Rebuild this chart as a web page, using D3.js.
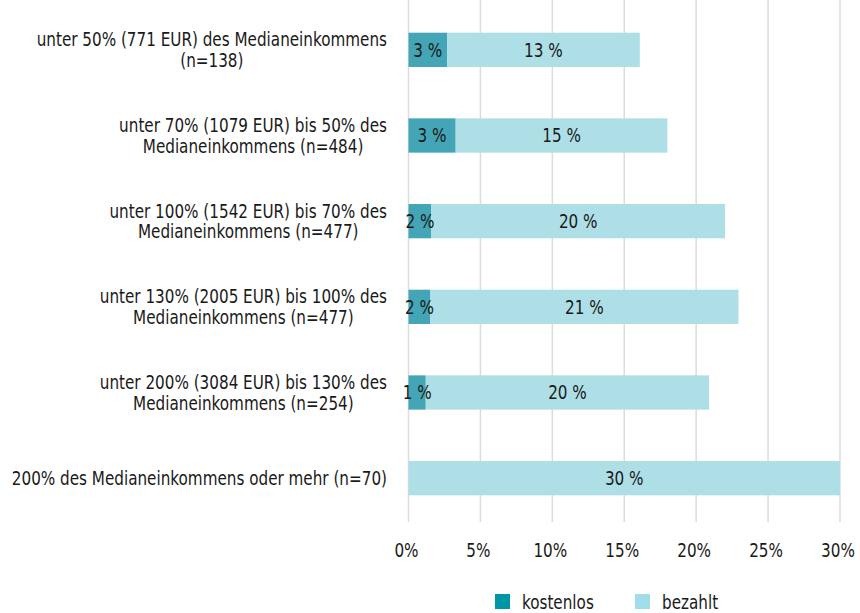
<!DOCTYPE html>
<html>
<head>
<meta charset="utf-8">
<script src="https://cdn.jsdelivr.net/npm/d3@7"></script>
<style>
  body { margin: 0; background: #fff; }
  svg text { font-family: "Liberation Sans Narrow", "DejaVu Sans Condensed", "Roboto", sans-serif; fill: #1a1a1a; }
</style>
</head>
<body>
<svg width="860" height="613"></svg>
<script>
// data
var categories = [
	["unter 50% (771 EUR) des Medianeinkommens", "(n=138)"],
	["unter 70% (1079 EUR) bis 50% des", "Medianeinkommens (n=484)"],
	["unter 100% (1542 EUR) bis 70% des", "Medianeinkommens (n=477)"],
	["unter 130% (2005 EUR) bis 100% des", "Medianeinkommens (n=477)"],
	["unter 200% (3084 EUR) bis 130% des", "Medianeinkommens (n=254)"],
	["200% des Medianeinkommens oder mehr (n=70)"]
];
var kostenlos = [2.68, 3.28, 1.59, 1.52, 1.2, 0];
var bezahlt = [13.4, 14.72, 20.42, 21.42, 19.7, 30];
var series_names = ["kostenlos", "bezahlt"];
var xTicks = [0, 5, 10, 15, 20, 25, 30];

var barColors = ["#43a5b5", "#aedfe7"];
var legendColors = ["#0097a5", "#9fdee8"];

var fontSize = 19, squeeze = 0.89;

var svg = d3.select("svg");

var x = d3.scaleLinear()
	.domain([0, 30])
	.range([408.5, 840]);

var y = d3.scaleBand()
	.domain(d3.range(categories.length))
	.range([7, 521])
	.paddingInner(0.6)
	.paddingOuter(0.3);

// narrow text: placed at (px,py) and squeezed horizontally
function addText(parent, px, py, anchor, str) {
	return parent.append("text")
		.attr("transform", "translate(" + px + "," + py + ") scale(" + squeeze + ",1)")
		.attr("text-anchor", anchor)
		.style("font-size", fontSize + "px")
		.text(str);
}

// grid lines
svg.append("g")
	.selectAll("line")
	.data(xTicks)
	.enter()
	.append("line")
	.attr("x1", function(d) { return x(d); })
	.attr("x2", function(d) { return x(d); })
	.attr("y1", 0)
	.attr("y2", 522)
	.attr("stroke", "#dcdcdc")
	.attr("stroke-width", 1.5);

// stacked bars
var rows = categories.map(function(c, i) {
	return { i: i, k: kostenlos[i], b: bezahlt[i] };
});

var barG = svg.append("g");
rows.forEach(function(r) {
	var y0 = y(r.i), h = y.bandwidth();
	if (r.k > 0) {
		barG.append("rect")
			.attr("x", x(0))
			.attr("y", y0)
			.attr("width", x(r.k) - x(0))
			.attr("height", h)
			.attr("fill", barColors[0]);
	}
	barG.append("rect")
		.attr("x", x(r.k))
		.attr("y", y0)
		.attr("width", x(r.k + r.b) - x(r.k))
		.attr("height", h)
		.attr("fill", barColors[1]);

	if (r.k > 0) {
		addText(barG, (x(0) + x(r.k)) / 2, y0 + h / 2, "middle", Math.round(r.k) + " %")
			.attr("dy", "0.36em");
	}
	addText(barG, (x(r.k) + x(r.k + r.b)) / 2, y0 + h / 2, "middle", Math.round(r.b) + " %")
		.attr("dy", "0.36em");
});

// category labels, centred lines, block right aligned
var labelRight = 387;
categories.forEach(function(lines, i) {
	var cy = y(i) + y.bandwidth() / 2;
	var lh = 20.5;
	var top = cy - (lines.length - 1) * lh / 2;
	var t = addText(svg, labelRight, 0, "middle", null);
	var spans = lines.map(function(l, j) {
		return t.append("tspan")
			.attr("y", top + j * lh)
			.attr("dy", "0.36em")
			.text(l);
	});
	var w = d3.max(spans, function(s) { return s.node().getComputedTextLength(); });
	spans.forEach(function(s) { s.attr("x", -w / 2); });
});

// x tick labels
xTicks.forEach(function(d) {
	addText(svg, x(d) - 2, 557, "middle", d + "%");
});

// legend
var legendX = [495, 635];
series_names.forEach(function(n, i) {
	svg.append("rect")
		.attr("x", legendX[i])
		.attr("y", 594)
		.attr("width", 15)
		.attr("height", 15)
		.attr("fill", legendColors[i]);
	addText(svg, legendX[i] + 27, 609, "start", n);
});
</script>
</body>
</html>
